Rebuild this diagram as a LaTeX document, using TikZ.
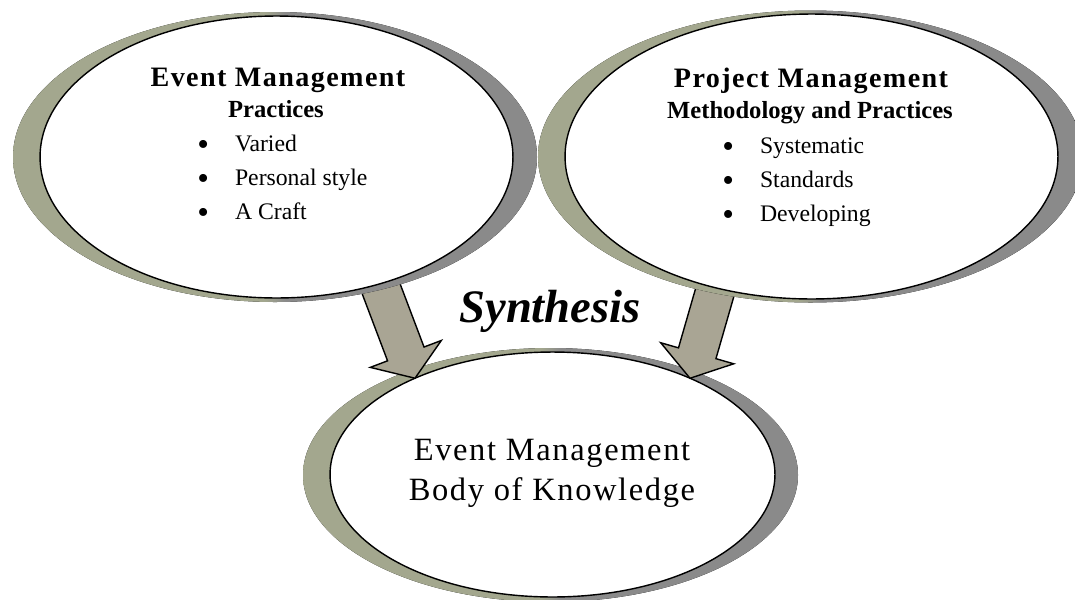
\documentclass[tikz,border=0pt]{standalone}
\usepackage{fontspec}
\setmainfont{Liberation Serif}
\usetikzlibrary{calc,shapes.geometric}

\definecolor{ringolive}{HTML}{A3A78E}
\definecolor{ringgray}{HTML}{8A8A8A}
\definecolor{arrowkhaki}{HTML}{A9A594}

% two-tone fill for the rims: olive on the left, grey on the right
\pgfdeclarehorizontalshading{rimshade}{100bp}{%
  color(0bp)=(ringolive); color(49bp)=(ringolive);
  color(51bp)=(ringgray); color(100bp)=(ringgray)}

\pgfdeclarelayer{bottom}
\pgfdeclarelayer{arrows}
\pgfsetlayers{bottom,arrows,main}

% larger list bullet
\newcommand{\bigbullet}{\raisebox{-2.5pt}{\fontsize{19}{19}\selectfont\textbullet}}

\begin{document}
\begin{tikzpicture}[
  x=0.02cm, y=-0.02cm,
  rim/.style={shading=rimshade},
  bubble/.style={ellipse, draw=black, line width=0.8pt, fill=white,
                 inner sep=0pt, outer sep=0pt},
  heading/.style={anchor=base, inner sep=0pt,
    font=\fontsize{16}{19}\selectfont\bfseries\addfontfeature{LetterSpace=5}},
  subheading/.style={anchor=base, inner sep=0pt,
    font=\fontsize{14}{17}\selectfont\bfseries},
  item/.style={anchor=base west, inner sep=0pt,
    font=\fontsize{13.5}{16}\selectfont},
  bodytext/.style={anchor=base, inner sep=0pt,
    font=\fontsize{18.5}{22}\selectfont\addfontfeature{LetterSpace=5}},
  synth/.style={anchor=base, inner sep=0pt,
    font=\fontsize{26.5}{30}\selectfont\bfseries\itshape},
  blockarrow/.style={fill=arrowkhaki, draw=black, line width=0.8pt}]

\useasboundingbox (0,0) rectangle (1075,599);

% --- Body of knowledge (bottom) ---
\begin{pgfonlayer}{bottom}
  \fill[rim] (550.5,475) ellipse [x radius=247.5, y radius=127];
  \node[bubble, minimum width=8.9cm, minimum height=4.9cm] (bok) at (552.5,474.5) {};
  \node[bodytext] (bok1) at (552,460) {Event Management};
  \node[bodytext] (bok2) at (552,500) {Body of Knowledge};
\end{pgfonlayer}

% --- Event management practices (top left) ---
\fill[rim] (275,157) ellipse [x radius=262, y radius=145];
\node[bubble, minimum width=9.46cm, minimum height=5.64cm] (emp) at (276.5,157) {};
\node[heading] (emp-t) at (278,86) {Event Management};
\node[subheading] (emp-s) at (276,117) {Practices};
\foreach \txt [count=\k] in {Varied, Personal style, A Craft}
  \node[item] (emp-\k) at (197,{117.5+34*\k}) {\bigbullet\hspace{0.52cm}\txt};

% --- Project management (top right) ---
\fill[rim] (810.5,156.5) ellipse [x radius=272.5, y radius=146];
\node[bubble, minimum width=9.86cm, minimum height=5.7cm] (pmm) at (811.5,156.5) {};
\node[heading] (pmm-t) at (811,87) {Project Management};
\node[subheading] (pmm-s) at (810,118) {Methodology and Practices};
\foreach \txt [count=\k] in {Systematic, Standards, Developing}
  \node[item] (pmm-\k) at (722,{119+34*\k}) {\bigbullet\hspace{0.52cm}\txt};

% --- block arrows into the bottom bubble ---
\begin{pgfonlayer}{arrows}
\foreach \a/\src/\dst in {ev/emp.-51/bok.145, pm/pmm.234/bok.35} {
  \coordinate (\a tip) at (\dst);
  \coordinate (\a tail) at ($(\dst)!1.15!(\src)$);
  \coordinate (\a neck) at ($(\a tip)!0.52cm!(\a tail)$);
  \filldraw[blockarrow]
    ($(\a tail)!0.39cm!90:(\a tip)$) -- ($(\a neck)!0.39cm!90:(\a tip)$)
    -- ($(\a neck)!0.76cm!90:(\a tip)$) -- (\a tip)
    -- ($(\a neck)!0.76cm!-90:(\a tip)$) -- ($(\a neck)!0.39cm!-90:(\a tip)$)
    -- ($(\a tail)!0.39cm!-90:(\a tip)$) -- cycle;
}
\end{pgfonlayer}

\node[synth] (syn) at (550,322) {Synthesis};

\end{tikzpicture}
\end{document}
